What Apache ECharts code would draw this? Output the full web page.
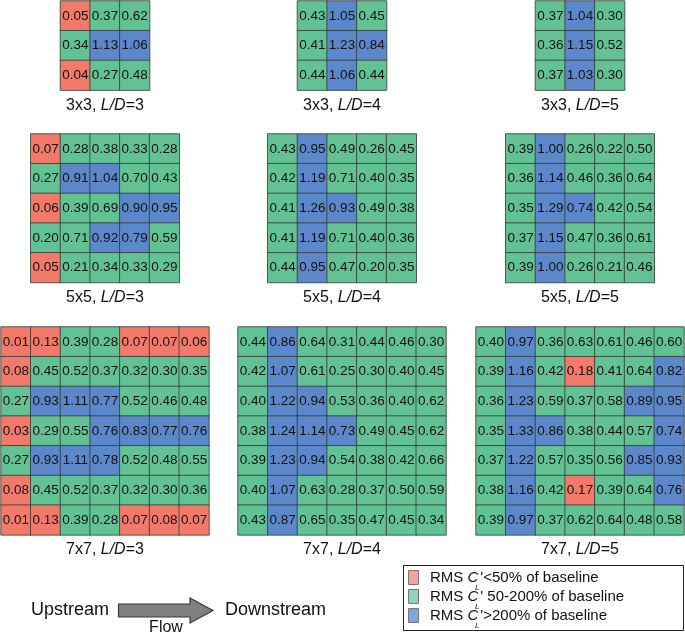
<!DOCTYPE html>
<html><head><meta charset="utf-8">
<script src="https://cdn.jsdelivr.net/npm/echarts@6/dist/echarts.min.js"></script>
<style>html,body{margin:0;padding:0;background:#fff}#c{width:685px;height:633px}</style>
</head><body><div id="c"></div>
<script>
// ---- data (rows top to bottom) ----
const g3_LD3 = [[0.05,0.37,0.62],[0.34,1.13,1.06],[0.04,0.27,0.48]];
const g3_LD4 = [[0.43,1.05,0.45],[0.41,1.23,0.84],[0.44,1.06,0.44]];
const g3_LD5 = [[0.37,1.04,0.30],[0.36,1.15,0.52],[0.37,1.03,0.30]];
const g5_LD3 = [[0.07,0.28,0.38,0.33,0.28],[0.27,0.91,1.04,0.70,0.43],[0.06,0.39,0.69,0.90,0.95],[0.20,0.71,0.92,0.79,0.59],[0.05,0.21,0.34,0.33,0.29]];
const g5_LD4 = [[0.43,0.95,0.49,0.26,0.45],[0.42,1.19,0.71,0.40,0.35],[0.41,1.26,0.93,0.49,0.38],[0.41,1.19,0.71,0.40,0.36],[0.44,0.95,0.47,0.20,0.35]];
const g5_LD5 = [[0.39,1.00,0.26,0.22,0.50],[0.36,1.14,0.46,0.36,0.64],[0.35,1.29,0.74,0.42,0.54],[0.37,1.15,0.47,0.36,0.61],[0.39,1.00,0.26,0.21,0.46]];
const g7_LD3 = [[0.01,0.13,0.39,0.28,0.07,0.07,0.06],[0.08,0.45,0.52,0.37,0.32,0.30,0.35],[0.27,0.93,1.11,0.77,0.52,0.46,0.48],[0.03,0.29,0.55,0.76,0.83,0.77,0.76],[0.27,0.93,1.11,0.78,0.52,0.48,0.55],[0.08,0.45,0.52,0.37,0.32,0.30,0.36],[0.01,0.13,0.39,0.28,0.07,0.08,0.07]];
const g7_LD4 = [[0.44,0.86,0.64,0.31,0.44,0.46,0.30],[0.42,1.07,0.61,0.25,0.30,0.40,0.45],[0.40,1.22,0.94,0.53,0.36,0.40,0.62],[0.38,1.24,1.14,0.73,0.49,0.45,0.62],[0.39,1.23,0.94,0.54,0.38,0.42,0.66],[0.40,1.07,0.63,0.28,0.37,0.50,0.59],[0.43,0.87,0.65,0.35,0.47,0.45,0.34]];
const g7_LD5 = [[0.40,0.97,0.36,0.63,0.61,0.46,0.60],[0.39,1.16,0.42,0.18,0.41,0.64,0.82],[0.36,1.23,0.59,0.37,0.58,0.89,0.95],[0.35,1.33,0.86,0.38,0.44,0.57,0.74],[0.37,1.22,0.57,0.35,0.56,0.85,0.93],[0.38,1.16,0.42,0.17,0.39,0.64,0.76],[0.39,0.97,0.37,0.62,0.64,0.48,0.58]];
const sizes = ['3x3','3x3','3x3','5x5','5x5','5x5','7x7','7x7','7x7'];
const ldValues = ['3','4','5','3','4','5','3','4','5'];
const legendTexts = ['\'<50% of baseline', '\' 50-200% of baseline', '\'>200% of baseline'];

const grids = [g3_LD3,g3_LD4,g3_LD5,g5_LD3,g5_LD4,g5_LD5,g7_LD3,g7_LD4,g7_LD5];
const RED='#F37A6B', GREEN='#63C294', BLUE='#5C88CB';

const colCenters = [105, 342, 580];
const rowTops = [1, 134, 327];
const cell = 29.7;

const chart = echarts.init(document.getElementById('c'), null, {renderer:'canvas'});
const option = {
  animation:false,
  grid:[], xAxis:[], yAxis:[], series:[], graphic:[],
  visualMap:{type:'piecewise', show:false, seriesIndex:[0,1,2,3,4,5,6,7,8], dimension:2,
    pieces:[{lt:0.185, color:RED},{gte:0.185, lte:0.72, color:GREEN},{gt:0.72, color:BLUE}]}
};
grids.forEach((g,i)=>{
  const n = g.length;
  const w = n*cell;
  const left = colCenters[i%3] - w/2;
  const top = rowTops[Math.floor(i/3)];
  option.grid.push({left:left, top:top, width:w, height:w});
  const cats = g.map((_,k)=>String(k));
  option.xAxis.push({type:'category', gridIndex:i, data:cats, show:false});
  option.yAxis.push({type:'category', gridIndex:i, data:cats, show:false, inverse:true});
  const data=[];
  g.forEach((row,r)=>row.forEach((v,c)=>data.push([c,r,v])));
  option.series.push({type:'heatmap', xAxisIndex:i, yAxisIndex:i, data:data,
    itemStyle:{borderColor:'#2e3a33', borderWidth:0.8},
    label:{show:true, color:'#111', fontFamily:'Liberation Sans', fontSize:13.5,
      formatter:p=>p.value[2].toFixed(2)},
    emphasis:{disabled:true}});
  option.graphic.push({type:'text',
    style:{text:'{n|'+sizes[i]+', }{i|L/D}{n|='+ldValues[i]+'}',
      rich:{n:{fontFamily:'Liberation Sans', fontSize:16, fill:'#111'}, i:{fontFamily:'Liberation Sans', fontSize:16, fontStyle:'italic', fill:'#111'}},
      x:colCenters[i%3], y: top + w + 15, align:'center', verticalAlign:'middle'}});
});

// legend box
const lg = [];
lg.push({type:'rect', shape:{x:403.5, y:565.5, width:280, height:65}, style:{fill:'#fff', stroke:'#222', lineWidth:1}});
const swatch=['#F6A19B','#8ED4B6','#7EA6DC'];
[0,1,2].forEach(k=>{
  const cy = 578 + k*19;
  lg.push({type:'rect', shape:{x:408.5, y:cy-7.5, width:10, height:14}, style:{fill:swatch[k], stroke:'#777', lineWidth:1}});
  lg.push({type:'text', style:{text:'{n|RMS }{i|C}{g|}{n|'+legendTexts[k]+'}',
    rich:{n:{fontFamily:'Liberation Sans', fontSize:15, fill:'#111'}, i:{fontFamily:'Liberation Sans', fontSize:15, fontStyle:'italic', fill:'#111'}, g:{width:2}},
    x:430, y:cy, verticalAlign:'middle'}});
  lg.push({type:'text', style:{text:'L', fontFamily:'Liberation Sans', fontSize:8, fontStyle:'italic', fill:'#111', x:475, y:cy+10, verticalAlign:'middle'}});
});
// flow arrow
lg.push({type:'text', style:{text:'Upstream', fontFamily:'Liberation Sans', fontSize:18, fill:'#111', x:31, y:610, verticalAlign:'middle'}});
lg.push({type:'text', style:{text:'Downstream', fontFamily:'Liberation Sans', fontSize:18, fill:'#111', x:225, y:610, verticalAlign:'middle'}});
lg.push({type:'polygon', shape:{points:[[118.5,604],[190,604],[190,598],[213,610.5],[190,623],[190,617],[118.5,617]]}, style:{fill:'#808080', stroke:'#3a3a3a', lineWidth:1.2}});
lg.push({type:'text', style:{text:'Flow', fontFamily:'Liberation Sans', fontSize:16, fill:'#111', x:166, y:628, align:'center', verticalAlign:'middle'}});
option.graphic = option.graphic.concat(lg);

chart.setOption(option);
</script></body></html>
